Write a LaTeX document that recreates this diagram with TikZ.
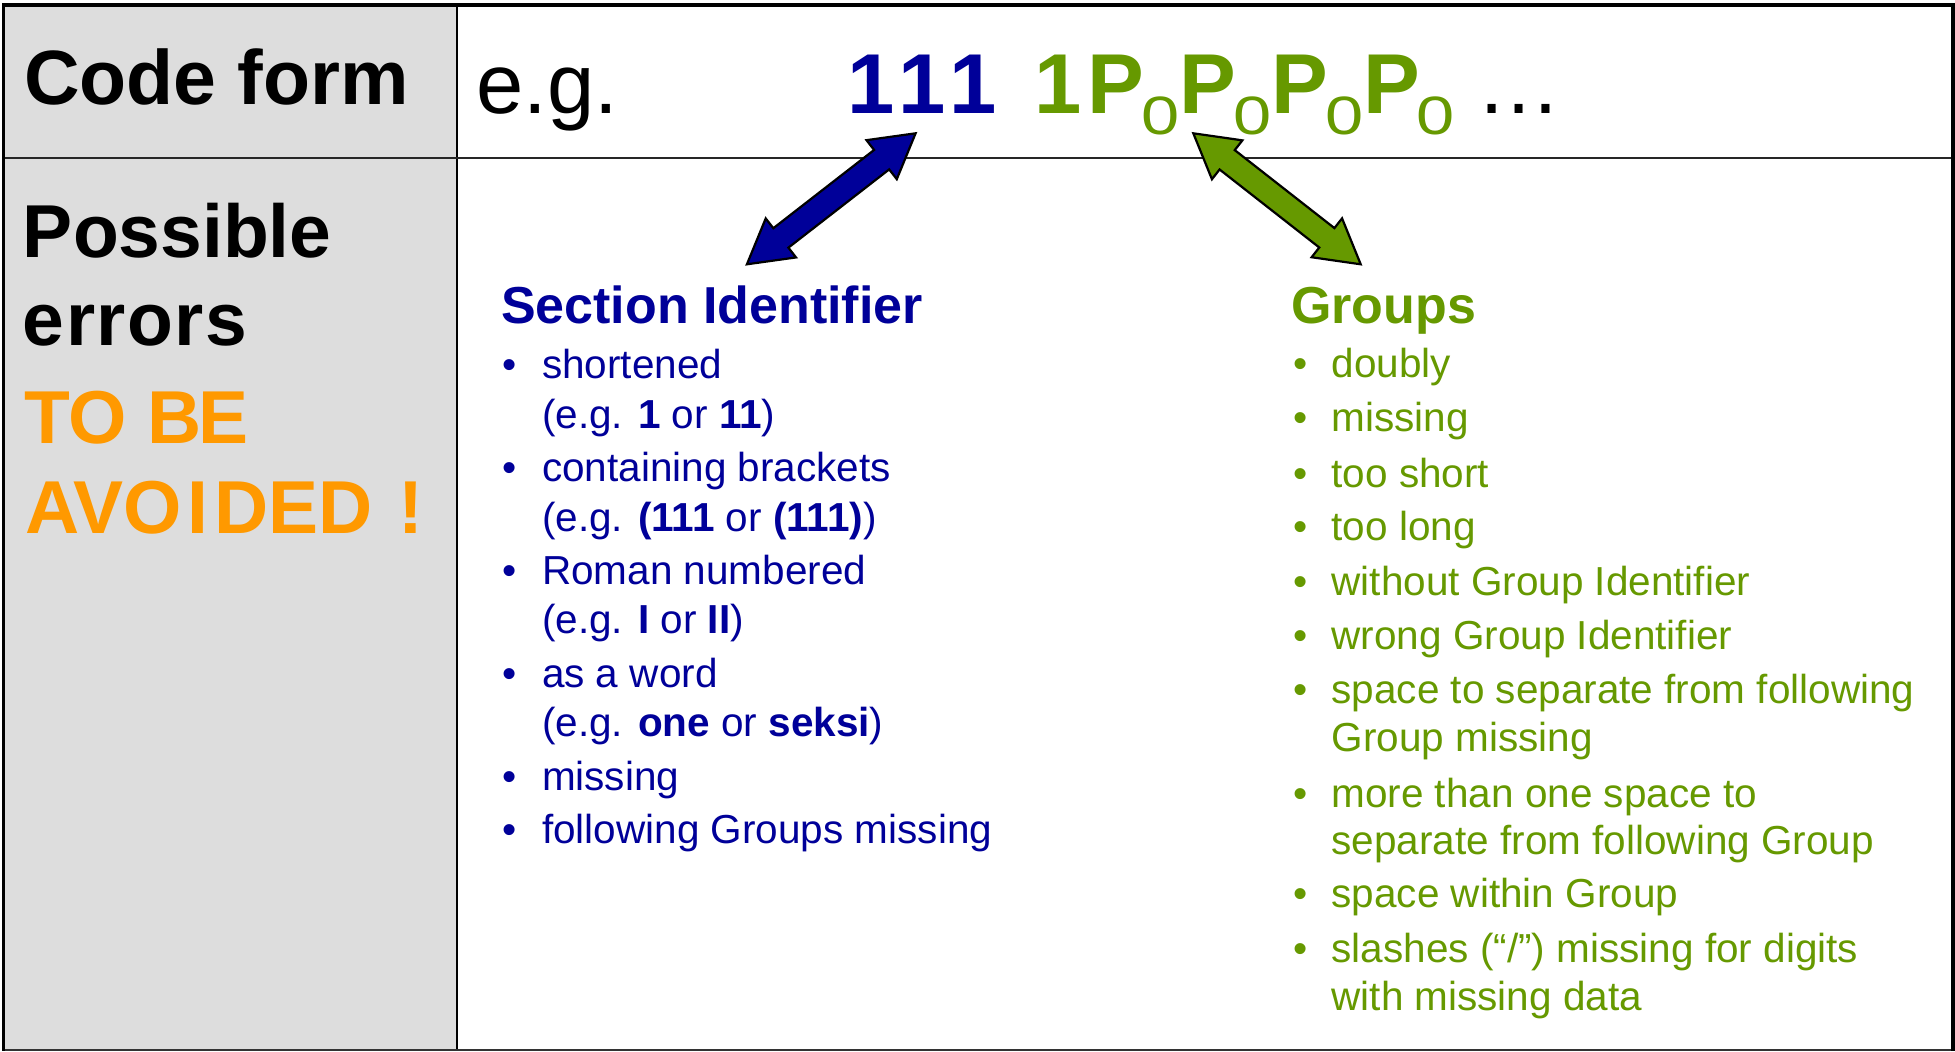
\documentclass[tikz,border=0pt]{standalone}
\usepackage{fontspec}
\usepackage{graphicx}
\setmainfont{Liberation Sans}
\usetikzlibrary{calc}
\definecolor{cblue}{HTML}{000099}
\definecolor{cgreen}{HTML}{669900}
\definecolor{corange}{HTML}{FF9900}
\definecolor{cgray}{HTML}{DDDDDD}
\tikzset{
  txt/.style={anchor=base west, inner sep=0pt, outer sep=0pt},
  lefthead/.style={txt, font=\fontsize{75}{90}\selectfont\bfseries},
  bigtxt/.style={txt, font=\fontsize{85}{100}\selectfont},
  bigbold/.style={txt, font=\fontsize{85}{100}\selectfont\bfseries},
  lst/.style={txt, font=\fontsize{40.5}{49.5}\selectfont},
  listhead/.style={txt, font=\fontsize{52}{60}\selectfont\bfseries},
  blockarr/.style={draw=black, line width=2.2pt, line join=miter},
}
\newcommand{\subz}{\raisebox{-21.5pt}{\fontsize{54}{60}\selectfont\mdseries\scalebox{1.27}[1]{0}}}
\newcommand{\dblarrow}[3]{%
  \draw[blockarr, fill=#3] (#1)
   -- ($(#1)!43pt!(#2)!24.7pt!90:(#2)$)
   -- ($(#1)!43pt!(#2)!12.3pt!90:(#2)$)
   -- ($(#2)!43pt!(#1)!12.3pt!-90:(#1)$)
   -- ($(#2)!43pt!(#1)!24.7pt!-90:(#1)$)
   -- (#2)
   -- ($(#2)!43pt!(#1)!24.7pt!90:(#1)$)
   -- ($(#2)!43pt!(#1)!12.3pt!90:(#1)$)
   -- ($(#1)!43pt!(#2)!12.3pt!-90:(#2)$)
   -- ($(#1)!43pt!(#2)!24.7pt!-90:(#2)$)
   -- cycle;}
\begin{document}
\begin{tikzpicture}[x=1pt,y=-1pt]
\useasboundingbox (0,0) rectangle (1955,1052);
\fill[white] (0,0) rectangle (1955,1052);
% table
\fill[cgray] (3.3,5) rectangle (457,1049.5);
\draw[line width=1.5pt] (457,5) -- (457,1049.5);
\draw[line width=2pt, black!85] (3.3,157.5) -- (1953,157.5);
\draw[line width=2pt, black!80] (3.3,1049.5) -- (1953,1049.5);
\draw[line width=3.5pt, line join=miter] (3.3,1050.5) -- (3.3,5) -- (1953,5) -- (1953,1050.5);

% left column
\node[txt, font=\fontsize{77}{90}\selectfont\bfseries] (codeform) at (24,104) {Code form};
\node[lefthead] (poss) at (23,257) {Possible};
\node[lefthead] (err) at (23,345) {e\kern1.5pt r\kern1.5pt r\kern1.5pt o\kern1.5pt r\kern1.5pt s};
\node[lefthead, text=corange] (tobe) at (24,443) {TO B\kern-3pt E};
\node[lefthead, text=corange] (avoid) at (25,533) {AVO\kern6pt I\kern6pt DED\kern5pt\ !};

% code line
\node[bigtxt] (eg) at (476.6,113) {e.g.};
\node[bigbold, text=cblue] (sec) at (847.5,113) {1\kern3.7pt 1\kern3.7pt 1};
\node[bigbold, text=cgreen] (grp) at (1034.5,113) {1\kern6pt P\kern-3pt\subz P\kern-3pt\subz P\kern-3pt\subz P\kern-3pt\subz};
\node[bigtxt] (dots) at (1476,113) {…};

% arrows
\coordinate (ba) at (746.9,264.3);
\coordinate (bb) at (915.6,133.3);
\coordinate (ga) at (1193.3,133.3);
\coordinate (gb) at (1360.7,264.3);
\dblarrow{ba}{bb}{cblue}
\dblarrow{ga}{gb}{cgreen}

% Section identifier list
\node[listhead, text=cblue] (sechead) at (501,323) {Section Identifier};
\foreach \y [count=\i] in {378.6,481.4,584,687,790,843}
  \node[lst, text=cblue] (sb\i) at (502,\y) {•};
\node[lst, text=cblue] (s1) at (542,378.6) {shortened};
\node[lst, text=cblue] (s1b) at (542,428) {(e.g. \textbf{1} or \textbf{11})};
\node[lst, text=cblue] (s2) at (542,481.4) {containing brackets};
\node[lst, text=cblue] (s2b) at (542,531) {(e.g. \textbf{(111} or \textbf{(111)})};
\node[lst, text=cblue] (s3) at (542,584) {Roman numbered};
\node[lst, text=cblue] (s3b) at (542,633.7) {(e.g. \textbf{I} or \textbf{II})};
\node[lst, text=cblue] (s4) at (542,687) {as a word};
\node[lst, text=cblue] (s4b) at (542,736.5) {(e.g. \textbf{one} or \textbf{seksi})};
\node[lst, text=cblue] (s5) at (542,790) {missing};
\node[lst, text=cblue] (s6) at (542,843) {following Groups missing};

% Groups list
\node[listhead, text=cgreen] (grphead) at (1291,323) {Groups};
\foreach \y [count=\i] in {377,431,487,540,595,649,703,807,907,962}
  \node[lst, text=cgreen] (gb\i) at (1293,\y) {•};
\node[lst, text=cgreen] (g1) at (1331.5,377) {doubly};
\node[lst, text=cgreen] (g2) at (1331.5,431) {missing};
\node[lst, text=cgreen] (g3) at (1331.5,487) {too short};
\node[lst, text=cgreen] (g4) at (1331.5,540) {too long};
\node[lst, text=cgreen] (g5) at (1331.5,595) {without Group Identifier};
\node[lst, text=cgreen] (g6) at (1331.5,649) {wrong Group Identifier};
\node[lst, text=cgreen] (g7) at (1331.5,703) {space to separate from following};
\node[lst, text=cgreen] (g7b) at (1331.5,751) {Group missing};
\node[lst, text=cgreen] (g8) at (1331.5,807) {more than one space to};
\node[lst, text=cgreen] (g8b) at (1331.5,854.5) {separate from following Group};
\node[lst, text=cgreen] (g9) at (1331.5,907) {space within Group};
\node[lst, text=cgreen] (g10) at (1331.5,962) {slashes (“/”) missing for digits};
\node[lst, text=cgreen] (g10b) at (1331.5,1010.6) {with missing data};
\end{tikzpicture}
\end{document}
